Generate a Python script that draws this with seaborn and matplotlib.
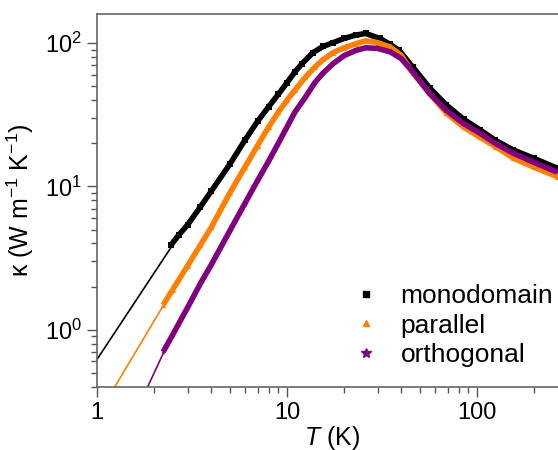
import numpy as np
import pandas as pd
import matplotlib
matplotlib.use("Agg")
import matplotlib.pyplot as plt
import seaborn as sns
from matplotlib.lines import Line2D
from matplotlib.ticker import LogLocator, FuncFormatter, NullFormatter

# ---- data ----
mono_T = [2.45, 2.7, 3.0, 3.5, 4.0, 5.0, 6.0, 7.0, 8.0, 9.0, 10, 11, 12, 13.7, 15.5, 17.5, 20, 23, 26, 30.8, 35, 39, 46, 56.5, 69, 85, 104, 125, 155, 200, 265]
mono_k = [3.9, 4.6, 5.4, 7.2, 9.3, 14.3, 21, 28.5, 36, 44, 53, 63, 72, 86, 95, 101, 108, 114, 117, 108, 98, 89, 68, 48.6, 37, 29.5, 24.8, 21, 18, 15.7, 13.4]
par_T = [2.23, 2.5, 3.0, 3.5, 4.0, 5.0, 6.0, 7.0, 8.0, 9.0, 10, 11, 12.5, 14, 15.5, 17.5, 20, 23, 26, 30, 35, 40, 46, 56, 69, 85, 104, 125, 155, 200, 265]
par_k = [1.49, 1.9, 2.8, 3.9, 5.2, 9.0, 13.6, 19.3, 26, 33, 40, 47, 58, 68, 77, 86, 93, 99, 104, 101, 94, 82, 62, 45, 32.5, 26, 22, 19, 15.8, 13.6, 11.7]
ort_T = [2.23, 2.5, 3.0, 3.5, 4.0, 5.0, 6.0, 7.0, 8.0, 9.0, 10, 11, 12.5, 14, 15.5, 17.5, 20, 23, 26, 30, 35, 40, 46, 56, 69, 85, 104, 125, 155, 200, 265]
ort_k = [0.70, 0.92, 1.43, 2.1, 2.85, 4.9, 7.6, 11.0, 15.0, 20, 26, 33, 42, 53, 62, 72, 82, 89, 93, 92, 87, 78, 63, 45, 34, 27.5, 23.5, 20, 17.1, 14.7, 12.6]

# low-temperature fit lines
mono_fit_T = [1.0, 2.5]
mono_fit_k = [0.62, 3.9]
par_fit_T = [1.2, 2.25]
par_fit_k = [0.37, 1.5]
ort_fit_T = [1.8, 2.25]
ort_fit_k = [0.37, 0.70]

names = ["monodomain", "parallel", "orthogonal"]
colors = {"monodomain": "#000000", "parallel": "#FF8000", "orthogonal": "#800080"}
markers = {"monodomain": "s", "parallel": "^", "orthogonal": "*"}

data = pd.concat([
    pd.DataFrame({"T": mono_T, "k": mono_k, "sample": "monodomain"}),
    pd.DataFrame({"T": par_T, "k": par_k, "sample": "parallel"}),
    pd.DataFrame({"T": ort_T, "k": ort_k, "sample": "orthogonal"}),
], ignore_index=True)
fits = pd.concat([
    pd.DataFrame({"T": mono_fit_T, "k": mono_fit_k, "sample": "monodomain"}),
    pd.DataFrame({"T": par_fit_T, "k": par_fit_k, "sample": "parallel"}),
    pd.DataFrame({"T": ort_fit_T, "k": ort_fit_k, "sample": "orthogonal"}),
], ignore_index=True)

sns.set_style("ticks")
plt.rcParams["font.family"] = ["Liberation Sans", "DejaVu Sans"]
plt.rcParams["mathtext.fontset"] = "custom"
plt.rcParams["mathtext.rm"] = "Liberation Sans"
plt.rcParams["mathtext.it"] = "Liberation Sans:italic"
plt.rcParams["mathtext.default"] = "regular"
plt.rcParams["text.color"] = "black"
plt.rcParams["axes.labelcolor"] = "black"
plt.rcParams["xtick.labelcolor"] = "black"
plt.rcParams["ytick.labelcolor"] = "black"

fig = plt.figure(figsize=(5.58, 4.5), dpi=100)
ax = fig.add_axes([97 / 558, 1 - 386.7 / 450, (567.6 - 97) / 558, (386.7 - 14) / 450])

sns.lineplot(data=fits, x="T", y="k", hue="sample", palette=colors, hue_order=names,
             linewidth=1.2, sort=False, legend=False, ax=ax, estimator=None)
for n in names:
    sub = data[data["sample"] == n]
    sns.lineplot(data=sub, x="T", y="k", color=colors[n], linewidth=4.0,
                 sort=False, legend=False, ax=ax, estimator=None, solid_capstyle="butt")
    sns.scatterplot(data=sub, x="T", y="k", color=colors[n], marker=markers[n], s=14,
                    linewidth=0, legend=False, ax=ax)

ax.set_xscale("log")
ax.set_yscale("log")
ax.set_xlim(1, 300)
ax.set_ylim(0.4, 160)

ax.xaxis.set_major_locator(LogLocator(base=10, numticks=10))
ax.xaxis.set_minor_locator(LogLocator(base=10, subs=np.arange(2, 10), numticks=20))
ax.xaxis.set_major_formatter(FuncFormatter(lambda v, p: f"{v:g}"))
ax.xaxis.set_minor_formatter(NullFormatter())
ax.yaxis.set_major_locator(LogLocator(base=10, numticks=10))
ax.yaxis.set_minor_locator(LogLocator(base=10, subs=np.arange(2, 10), numticks=20))
ax.yaxis.set_major_formatter(FuncFormatter(lambda v, p: r"$10^{%d}$" % round(np.log10(v))))
ax.yaxis.set_minor_formatter(NullFormatter())

ax.tick_params(which="major", direction="out", length=7, width=1, color="#555555",
               labelsize=17, pad=4, top=False, right=False)
ax.tick_params(which="minor", direction="out", length=4, width=1, color="#555555",
               top=False, right=False)
for s in ax.spines.values():
    s.set_color("#666666")
    s.set_linewidth(1.2)

ax.set_xlabel(r"$\it{T}$ (K)", fontsize=18, labelpad=0)
ax.set_ylabel(r"κ (W m$^{-1}$ K$^{-1}$)", fontsize=18, labelpad=6)

handles = [Line2D([], [], linestyle="none", marker=markers[n], color=colors[n],
                  markersize=5 if n != "orthogonal" else 7) for n in names]
ax.legend(handles, names, loc="lower left", bbox_to_anchor=((345 - 97) / 470.6, 0.025),
          frameon=False, fontsize=19, handlelength=0.8, handletextpad=0.9,
          labelspacing=0.2, borderaxespad=0)

fig.savefig("out.png", dpi=100)
